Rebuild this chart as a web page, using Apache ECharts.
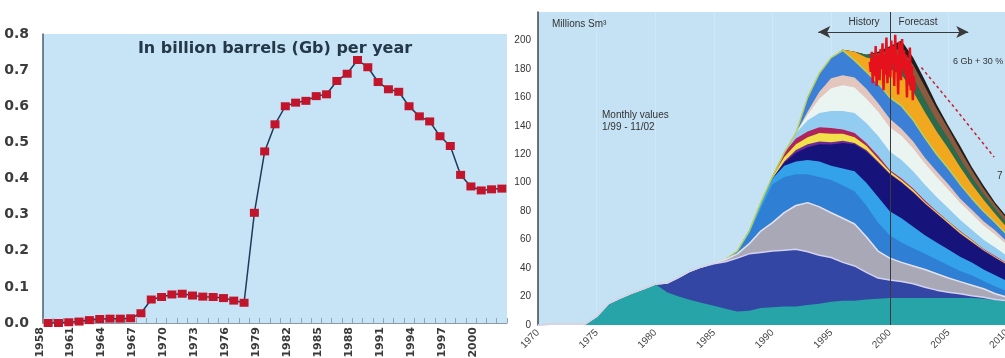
<!DOCTYPE html>
<html>
<head>
<meta charset="utf-8">
<script src="https://cdn.jsdelivr.net/npm/echarts@6/dist/echarts.min.js"></script>
<style>
  html, body { margin: 0; padding: 0; background: #ffffff; }
  #chart { width: 1005px; height: 358px; }
</style>
</head>
<body>
<div id="chart"></div>
<script>
// ---- Left panel: annual production, billion barrels per year ----
const prodYears = ['1958','1959','1960','1961','1962','1963','1964','1965','1966','1967',
  '1968','1969','1970','1971','1972','1973','1974','1975','1976','1977',
  '1978','1979','1980','1981','1982','1983','1984','1985','1986','1987',
  '1988','1989','1990','1991','1992','1993','1994','1995','1996','1997',
  '1998','1999','2000','2001','2002'];
const prodValues = [0.0, 0.0, 0.002, 0.004, 0.008, 0.011, 0.012, 0.012, 0.013, 0.027,
  0.065, 0.072, 0.079, 0.081, 0.076, 0.073, 0.072, 0.069, 0.062, 0.056,
  0.305, 0.475, 0.55, 0.60, 0.61, 0.615, 0.628, 0.633, 0.67, 0.69,
  0.728, 0.708, 0.667, 0.647, 0.64, 0.60, 0.572, 0.558, 0.517, 0.49,
  0.41, 0.378, 0.367, 0.37, 0.372];
const prodTicks = [0, 0.1, 0.2, 0.3, 0.4, 0.5, 0.6, 0.7, 0.8];

// ---- Right panel: production by field, million Sm3 (layer thickness, bottom first) ----
const fieldYears = [1970,1971,1972,1973,1974,1975,1976,1977,1978,1979,
  1980,1981,1982,1983,1984,1985,1986,1987,1988,1989,
  1990,1991,1992,1993,1994,1995,1996,1997,1998,1999,
  2000,2001,2002,2003,2004,2005,2006,2007,2008,2009,2010];

const fieldTeal = [0,0.5,0.6,0.6,0.6,6,15,19,22.5,25.5,
  28.8,23,20,17.5,15.5,13.5,11.5,9.5,10,12,
  12.5,13,13,14,15,16.4,17,17,18,18.5,
  19,19,19,19,19,19,19,19,18.5,17.5,16.5];
const fieldDarkBlue = [0,0,0,0,0,0,0,0,0,0,
  0,6.5,13.5,20.5,25.5,29.5,33,37.5,40,39,
  39.5,39.5,40.2,37.5,34,31,27,24.5,19,14.5,
  12.6,11.5,10,7.5,5.5,4,3,1.5,1,0.5,0.5];
const fieldGray = [0,0,0,0,0,0,0,0,0,0,
  0,0,0,0,0,0.5,1.5,3,7,15,
  20,26.5,30.8,34.5,34,31.5,31,29.5,25,19,
  15.4,13.5,12.5,12.5,11.5,10,8.5,7.5,6,4,2.5];
const fieldBlue = [0,0,0,0,0,0,0,0,0,0,
  0,0,0,0,0,0,0,2,7,16,
  27,25,22,20,21,23,23,23,22,20,
  16,14,12.5,11,10,9,7.5,7,5.5,5,4.5];
const fieldLightBlue = [0,0,0,0,0,0,0,0,0,0,
  0,0,0,0,0,0,0,0,2,4,
  4,8,9,10,11,10,12,14,16,18,
  17,17,15,13,12,11,10,9,8,8,7];
const fieldNavy = [0,0,0,0,0,0,0,0,0,0,
  0,0,0,0,0,0,0,0,0,0,
  0,2,6,9,12,15,18,19,22,24,
  26,25,24,22,20,18,16,14,13,12,11];
const fieldPurple = [0,0,0,0,0,0,0,0,0,0,
  0,0,0,0,0,0,0,0,0,0,
  0,1,2,2,2,1.5,1.5,1,1,1,
  0.5,0.5,0.5,0.5,0.5,0.5,0.5,0.5,0.5,0.5,0.5];
const fieldYellow = [0,0,0,0,0,0,0,0,0,0,
  0,0,0,0,0,0,0,0,0,0,
  1,3,4,5,6,6,5,4,3,2,
  1.5,1.5,1.5,1,1,1,1,1,0.5,0.5,0.5];
const fieldMagenta = [0,0,0,0,0,0,0,0,0,0,
  0,0,0,0,0,0,0,0,0,0,
  0.5,3,4,4,4,4,3,3,2,2,
  1,1,1,1,0.5,0.5,0.5,0.5,0.5,0.5,0.5];
const fieldPaleBlue = [0,0,0,0,0,0,0,0,0,0,
  0,0,0,0,0,0,0,0,0,0,
  0,0,4,8,10,12,13,14,14,14,
  13,13,12,11,10,9,8,7,6.5,6,5];
const fieldWhite = [0,0,0,0,0,0,0,0,0,0,
  0,0,0,0,0,0,0,0,0,0,
  0,0,0,4,10,16,18,18,17,17,
  17,17,16,15,14,13,12,11,10,9,8];
const fieldBeige = [0,0,0,0,0,0,0,0,0,0,
  0,0,0,0,0,0,0,0,0,0,
  0,0,0,2,5,7,7,7,7,6,
  6,5,5,4,4,4,3,3,3,3,2];
const fieldUpperBlue = [0,0,0,0,0,0,0,0,0,0,
  0,0,0,0,0,0,0,0,0,0,
  0,0,0,10,13,14.5,17.5,12,12,14,
  15,16,15,14,12,11,10,8,7,5.5,5];
const fieldOrange = [0,0,0,0,0,0,0,0,0,0,
  0,0,0,0,0,0,0,0,0,0,
  0,0,0,0,0,0,0.5,6,10,16,
  20,22,20,18,16,14,12,10,8,6,5];
const fieldGreen = [0,0,0,0,0,0,0,0,0,0,
  0,0,0,0,0,0,0,0,0,0,
  0,0,0,0,0,0,0,0,2,4,
  8,10,10,9,8,7,6,5,4,3.5,3];
const fieldBrown = [0,0,0,0,0,0,0,0,0,0,
  0,0,0,0,0,0,0,0,0,0,
  0,0,0,0,0,0,0,0,0,1,
  5,8,9,9,8,7,6,5,4,3,3];
const fieldBlack = [0,0,0,0,0,0,0,0,0,0,
  0,0,0,0,0,0,0,0,0,0,
  0,0,0,0,0,0,0,0,0,1,
  3,6,5,4.5,3,2,3,2,2,1.5,1.5];

// Monthly totals (47 months), plotted from the start of the red band
const monthlyStart = 1998.3;
const monthlyValues = [185,178,192,170,188,175,196,168,182,190,172,194,
  180,198,165,190,176,202,170,186,195,174,200,183,
  196,168,204,178,190,162,199,185,172,201,180,193,
  176,190,160,186,170,195,165,182,158,175,165];

// Alternative forecast case (dashed)
const altYears = [2002.7, 2005.5, 2008.9];
const altValues = [181, 153, 118];

const rightTicks = [0,20,40,60,80,100,120,140,160,180,200];

// field layers, bottom to top
const layers = [
  { data: fieldTeal,      color: '#27a4a7', line: null },
  { data: fieldDarkBlue,  color: '#3446a4', line: '#d4d2f0' },
  { data: fieldGray,      color: '#a9a8b6', line: '#e4e2f2' },
  { data: fieldBlue,      color: '#2f80d4', line: null },
  { data: fieldLightBlue, color: '#34a2ea', line: null },
  { data: fieldNavy,      color: '#16147a', line: null },
  { data: fieldPurple,    color: '#6e2a94', line: null },
  { data: fieldYellow,    color: '#f2e04a', line: null },
  { data: fieldMagenta,   color: '#b0245e', line: null },
  { data: fieldPaleBlue,  color: '#92ccf0', line: null },
  { data: fieldWhite,     color: '#eaf5f1', line: null },
  { data: fieldBeige,     color: '#e3c6bd', line: null },
  { data: fieldUpperBlue, color: '#3b80d6', line: '#b8d060' },
  { data: fieldOrange,    color: '#f1a81e', line: null },
  { data: fieldGreen,     color: '#2c6a4e', line: null },
  { data: fieldBrown,     color: '#8c5a3e', line: null },
  { data: fieldBlack,     color: '#1e1e1e', line: null }
];

// running totals: the top edge of each layer
const running = [];
layers.forEach(function (ly, k) {
  running.push(ly.data.map(function (v, i) { return (k ? running[k - 1][i] : 0) + v; }));
});

const narrow = '"Liberation Sans Narrow", "Liberation Sans", sans-serif';

const series = [];

series.push({
  type: 'line',
  xAxisIndex: 0, yAxisIndex: 0,
  data: prodValues,
  symbol: 'rect',
  symbolSize: [9, 8],
  showAllSymbol: true,
  itemStyle: { color: '#c2142a' },
  lineStyle: { color: '#1f3a58', width: 1.5 },
  z: 5,
  animation: false
});

// upper layers are painted first so each lower layer covers its own part
for (let k = layers.length - 1; k >= 0; k--) {
  const ly = layers[k];
  series.push({
    type: 'line',
    xAxisIndex: 1, yAxisIndex: 1,
    data: fieldYears.map(function (y, i) { return [y, running[k][i]]; }),
    showSymbol: false,
    symbol: 'none',
    areaStyle: { color: ly.color, opacity: 1, origin: 'start' },
    lineStyle: ly.line ? { color: ly.line, width: 1.5 } : { width: 0 },
    z: 2,
    animation: false
  });
}

series.push({
  type: 'line',
  xAxisIndex: 1, yAxisIndex: 1,
  data: monthlyValues.map(function (v, i) { return [monthlyStart + i / 12, v]; }),
  showSymbol: false,
  symbol: 'none',
  lineStyle: { color: '#e5121e', width: 2.5 },
  z: 6,
  animation: false,
  markLine: {
    silent: true,
    symbol: ['none', 'none'],
    label: { show: false },
    lineStyle: { color: '#3a3a3a', width: 1, type: 'solid' },
    data: [
      { xAxis: 2000 },
      [
        { coord: [1993.9, 206], symbol: 'arrow', symbolSize: [9, 12] },
        { coord: [2006.7, 206], symbol: 'arrow', symbolSize: [9, 12] }
      ]
    ]
  }
});

series.push({
  type: 'line',
  xAxisIndex: 1, yAxisIndex: 1,
  data: altYears.map(function (y, i) { return [y, altValues[i]]; }),
  showSymbol: false,
  symbol: 'none',
  lineStyle: { color: '#c8202c', width: 1.5, type: [3, 3] },
  z: 6,
  animation: false
});

const option = {
  animation: false,
  grid: [
    { left: 43, right: 498, top: 34, bottom: 35, show: true, backgroundColor: '#c6e4f6', borderWidth: 0,
      outerBoundsMode: 'none', containLabel: false },
    { left: 538, right: -2, top: 12, bottom: 33, show: true, backgroundColor: '#c4e2f4', borderWidth: 0,
      outerBoundsMode: 'none', containLabel: false }
  ],
  xAxis: [
    {
      gridIndex: 0, type: 'category', data: prodYears, boundaryGap: true,
      axisLine: { show: true, lineStyle: { color: '#8a9aa6', width: 1 } },
      axisTick: { show: true, inside: true, interval: 0, length: 5, lineStyle: { color: '#8fa5b5' } },
      axisLabel: { interval: 2, rotate: 90, fontSize: 11, fontWeight: 'bold', color: '#3a3a3a',
        fontFamily: '"DejaVu Sans", sans-serif', margin: 4, verticalAlign: 'bottom', padding: [0, 0, 3, 0] },
      splitLine: { show: false }
    },
    {
      gridIndex: 1, type: 'value', min: 1970, max: 2010, interval: 5,
      axisLine: { show: false },
      axisTick: { show: false },
      axisLabel: { rotate: 45, fontSize: 10, color: '#444', fontFamily: narrow, margin: 6,
        formatter: function (v) { return String(v); } },
      splitLine: { show: true, lineStyle: { color: '#cfe8f8', width: 1 } }
    }
  ],
  yAxis: [
    {
      gridIndex: 0, type: 'value', min: 0, max: 0.8, interval: 0.1,
      axisLine: { show: true, lineStyle: { color: '#4b5d70', width: 1.5 } },
      axisTick: { show: false },
      axisLabel: { fontSize: 14, fontWeight: 'bold', color: '#3c3c3c', margin: 14,
        fontFamily: '"DejaVu Sans", sans-serif',
        formatter: function (v) { return prodTicks.indexOf(Math.round(v * 10) / 10) >= 0 ? v.toFixed(1) : ''; } },
      splitLine: { show: false }
    },
    {
      gridIndex: 1, type: 'value', min: 0, max: 220, interval: 20,
      axisLine: { show: true, lineStyle: { color: '#3c4650', width: 1.5 } },
      axisTick: { show: false },
      axisLabel: { fontSize: 10, color: '#333', fontFamily: narrow, margin: 7, showMaxLabel: false,
        formatter: function (v) { return rightTicks.indexOf(v) >= 0 ? String(v) : ''; } },
      splitLine: { show: false }
    }
  ],
  graphic: [
    { type: 'text', x: 275, y: 49, style: { text: 'In billion barrels (Gb) per year', fill: '#25384a',
      font: 'bold 16px "DejaVu Sans", sans-serif', textAlign: 'center', textVerticalAlign: 'middle' }, z: 10 },
    { type: 'text', x: 552, y: 24, style: { text: 'Millions Sm³', fill: '#333',
      font: '10px ' + narrow, textAlign: 'left', textVerticalAlign: 'middle' }, z: 10 },
    { type: 'text', x: 602, y: 115, style: { text: 'Monthly values', fill: '#333',
      font: '10px ' + narrow, textAlign: 'left', textVerticalAlign: 'middle' }, z: 10 },
    { type: 'text', x: 602, y: 127, style: { text: '1/99 - 11/02', fill: '#333',
      font: '10px ' + narrow, textAlign: 'left', textVerticalAlign: 'middle' }, z: 10 },
    { type: 'text', x: 864, y: 22, style: { text: 'History', fill: '#333',
      font: '10px ' + narrow, textAlign: 'center', textVerticalAlign: 'middle' }, z: 10 },
    { type: 'text', x: 918, y: 22, style: { text: 'Forecast', fill: '#333',
      font: '10px ' + narrow, textAlign: 'center', textVerticalAlign: 'middle' }, z: 10 },
    { type: 'text', x: 953, y: 62, style: { text: '6 Gb + 30 %', fill: '#333',
      font: '9px ' + narrow, textAlign: 'left', textVerticalAlign: 'middle' }, z: 10 },
    { type: 'text', x: 997, y: 176, style: { text: '7', fill: '#333',
      font: '10px ' + narrow, textAlign: 'left', textVerticalAlign: 'middle' }, z: 10 }
  ],
  series: series
};

const chart = echarts.init(document.getElementById('chart'), null, { renderer: 'canvas' });
chart.setOption(option);
</script>
</body>
</html>
